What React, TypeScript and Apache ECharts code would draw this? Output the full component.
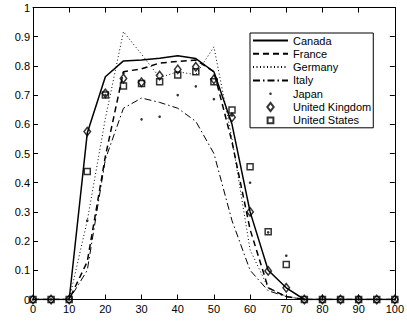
import { useEffect, useRef } from 'react';
import * as echarts from 'echarts';

const xs = [0, 5, 10, 15, 20, 25, 30, 35, 40, 45, 50, 55, 60, 65, 70, 75, 80, 85, 90, 95, 100];
const canada = [0, 0, 0, 0.57, 0.763, 0.817, 0.82, 0.826, 0.835, 0.825, 0.78, 0.6, 0.3, 0.1, 0.04, 0, 0, 0, 0, 0, 0];
const france = [0, 0, 0, 0.13, 0.49, 0.78, 0.79, 0.81, 0.815, 0.82, 0.78, 0.54, 0.24, 0.04, 0.01, 0, 0, 0, 0, 0, 0];
const germany = [0, 0, 0, 0.27, 0.62, 0.917, 0.84, 0.76, 0.78, 0.77, 0.865, 0.55, 0.17, 0.04, 0.01, 0, 0, 0, 0, 0, 0];
const italy = [0, 0, 0, 0.1, 0.48, 0.655, 0.69, 0.675, 0.655, 0.61, 0.5, 0.27, 0.1, 0.03, 0.01, 0, 0, 0, 0, 0, 0];
const japan = [0, 0, 0, 0.27, 0.7, 0.775, 0.617, 0.626, 0.7, 0.73, 0.686, 0.63, 0.4, 0.23, 0.15, 0, 0, 0, 0, 0, 0];
const uk = [0, 0, 0, 0.575, 0.706, 0.757, 0.744, 0.767, 0.788, 0.797, 0.754, 0.624, 0.3, 0.098, 0.04, 0, 0, 0, 0, 0, 0];
const us = [0, 0, 0, 0.438, 0.7, 0.731, 0.74, 0.746, 0.769, 0.78, 0.746, 0.649, 0.455, 0.232, 0.12, 0, 0, 0, 0, 0, 0];

const xTicks = { min: 0, max: 100, interval: 10 };
const yTicks = { min: 0, max: 1, interval: 0.1 };

const FONT = '"Liberation Sans", Arial, Helvetica, sans-serif';

// legend icon box is itemWidth x itemHeight = 35 x 9; the leading moves fix the path's box
const ICON_BOX = 'M0 0M35 9';
const ICON_DOT = 'path://' + ICON_BOX + 'M16.2 4.5A1.3 1.3 0 1 0 18.8 4.5A1.3 1.3 0 1 0 16.2 4.5Z';
const ICON_DIAMOND = 'path://' + ICON_BOX + 'M17.5 0.3L20.7 4.5L17.5 8.7L14.3 4.5Z';
const ICON_SQUARE = 'path://' + ICON_BOX + 'M14.6 1.6L20.4 1.6L20.4 7.4L14.6 7.4Z';

export default function App() {
  const ref = useRef<HTMLDivElement>(null);
  useEffect(() => {
    const chart = echarts.init(ref.current!, null, { renderer: 'svg' });
    const pair = (ys: number[]) => xs.map((x, i) => [x, ys[i]]);
    const axisLine = { show: true, onZero: false, lineStyle: { color: '#000', width: 1 } };
    const axisTick = { show: true, inside: true, length: 5, lineStyle: { color: '#000', width: 1 } };
    const lineSeries = (name: string, data: number[], type: any, width: number) => ({
      name,
      type: 'line',
      data: pair(data),
      symbol: 'none',
      showSymbol: false,
      lineStyle: { color: '#000', width, type },
      itemStyle: { color: '#000' },
      z: 2,
    });
    const hiddenSym = { opacity: 0 };
    chart.setOption({
      animation: false,
      backgroundColor: '#fff',
      grid: { left: 33, right: 4, top: 7.5, bottom: 21.5, show: false },
      xAxis: [
        {
          type: 'value', ...xTicks, position: 'bottom', axisLine, axisTick,
          axisLabel: { color: '#000', fontSize: 11, fontFamily: FONT, margin: 4 },
          splitLine: { show: false },
        },
        {
          type: 'value', ...xTicks, position: 'top', axisLine, axisTick,
          axisLabel: { show: false }, splitLine: { show: false },
        },
      ],
      yAxis: [
        {
          type: 'value', ...yTicks, position: 'left', axisLine, axisTick,
          axisLabel: {
            color: '#000', fontSize: 11, fontFamily: FONT, margin: 3,
            formatter: (v: number) => (v === 0 ? '0' : v === 1 ? '1' : v.toFixed(1)),
          },
          splitLine: { show: false },
        },
        {
          type: 'value', ...yTicks, position: 'right', axisLine, axisTick,
          axisLabel: { show: false }, splitLine: { show: false },
        },
      ],
      legend: {
        orient: 'vertical',
        left: 250,
        top: 33,
        itemWidth: 35,
        itemHeight: 9,
        itemGap: 2.3,
        padding: [2, 2, 2, 2],
        borderColor: '#000',
        borderWidth: 1,
        backgroundColor: '#fff',
        textStyle: { color: '#000', fontSize: 11, fontFamily: FONT },
        data: [
          { name: 'Canada', itemStyle: hiddenSym },
          { name: 'France', itemStyle: hiddenSym },
          { name: 'Germany', itemStyle: hiddenSym },
          { name: 'Italy', itemStyle: hiddenSym },
          { name: 'Japan', icon: ICON_DOT },
          { name: 'United Kingdom', icon: ICON_DIAMOND },
          { name: 'United States', icon: ICON_SQUARE },
        ],
      },
      series: [
        lineSeries('Canada', canada, 'solid', 1.5),
        lineSeries('France', france, [6, 4], 1.5),
        lineSeries('Germany', germany, [1, 2.5], 1),
        lineSeries('Italy', italy, [7, 3, 1.5, 3], 1),
        {
          name: 'Japan', type: 'scatter', data: pair(japan), symbol: 'circle', symbolSize: 2.6,
          itemStyle: { color: '#000' }, z: 3,
        },
        {
          name: 'United Kingdom', type: 'scatter', data: pair(uk), symbol: 'diamond', symbolSize: [6.5, 8.5],
          itemStyle: { color: 'rgba(0,0,0,0)', borderColor: '#000', borderWidth: 1.5 }, z: 3,
        },
        {
          name: 'United States', type: 'scatter', data: pair(us), symbol: 'rect', symbolSize: [6, 6],
          itemStyle: { color: 'rgba(0,0,0,0)', borderColor: '#000', borderWidth: 1.5 }, z: 3,
        },
      ],
    });
    return () => chart.dispose();
  }, []);
  return (
    <div
      ref={ref}
      style={{ position: 'fixed', left: 0, top: 0, width: 407, height: 321, background: '#fff' }}
    />
  );
}
